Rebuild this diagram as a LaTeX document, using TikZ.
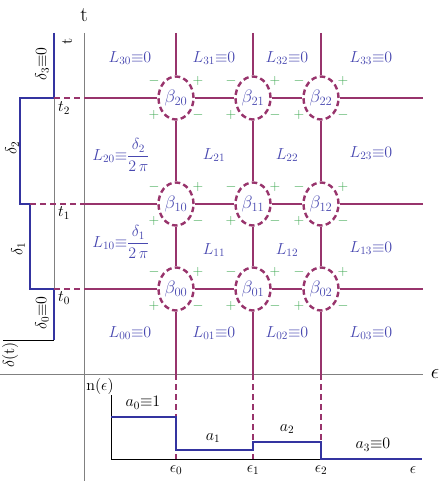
\RequirePackage{fix-cm}
\documentclass[tikz,border=0pt]{standalone}
\usetikzlibrary{shapes.geometric,calc}
\definecolor{magl}{RGB}{152,52,108}
\definecolor{stepblue}{RGB}{52,52,160}
\definecolor{labblue}{RGB}{72,72,176}
\definecolor{sgngreen}{RGB}{60,168,80}
\tikzset{
  magline/.style={magl, line width=2.4pt},
  magdash/.style={magline, dash pattern=on 6pt off 4pt},
  betnode/.style={ellipse, draw=magl, line width=2.4pt, dash pattern=on 5.5pt off 3.3pt,
    minimum width=35pt, minimum height=43pt, inner sep=0pt, text=labblue,
    font=\fontsize{18}{20}\selectfont},
  sgn/.style={text=sgngreen, inner sep=0pt, font=\fontsize{14}{14}\selectfont},
  lab/.style={text=labblue, inner sep=0pt},
  steps/.style={stepblue, line width=2.2pt},
  axis/.style={gray, line width=0.8pt},
  axlab/.style={font=\fontsize{21}{24}\selectfont},
  frame/.style={black, line width=0.6pt},
}
\begin{document}
\begin{tikzpicture}[x=1pt, y=-1pt, font=\fontsize{16}{19}\selectfont, >=stealth]
    \useasboundingbox (0,0) rectangle (441,481);

    % axes
    \coordinate (ttop) at (84,33);
    \coordinate (tbot) at (84,481);
    \draw[axis] (ttop) -- (tbot);
    \node[axlab] (tlab) at (84,15) {$\mathrm{t}$};
    \coordinate (eleft) at (0,374);
    \coordinate (eright) at (423,374);
    \draw[axis] (eleft) -- (eright);
    \node[axlab] (elab) at (435,374) {$\epsilon$};

    % delta(t), turned on its side
    \coordinate (dtop) at (54,33);
    \coordinate (dbot) at (54,340);
    \coordinate (dleft) at (3,340);
    \draw[axis] (dtop) -- (dbot);
    \draw[frame] (dleft) -- (dbot);
    \draw[steps] (dtop) -- (54,98) -- (20,98) -- (20,204) -- (30,204) -- (30,289) -- (54,289) -- (dbot);
    \node[rotate=90] (dtlab) at (10,355) {$\delta(\mathrm{t})$};
    \node[rotate=90] (trot) at (67,41) {$\mathrm{t}$};
    \node[rotate=90] (d3) at (42,64) {$\delta_3{\equiv}0$};
    \node[rotate=90] (d2) at (12,148) {$\delta_2$};
    \node[rotate=90] (d1) at (18,249) {$\delta_1$};
    \node[rotate=90] (d0) at (42,313) {$\delta_0{\equiv}0$};
    \node (t2) at (64,108) {$t_2$};
    \node (t1) at (64,213) {$t_1$};
    \node (t0) at (64,298) {$t_0$};

    % beta vertices with their signs
    \foreach \i/\y in {0/289,1/204,2/98}
      \foreach \j/\x in {0/176,1/253,2/321}{
        \node[betnode] (b\i\j) at (\x,\y) {$\beta_{\i\j}$};
        \node[sgn] (ul\i\j) at ($(b\i\j)+(-22,-17)$) {$-$};
        \node[sgn] (ur\i\j) at ($(b\i\j)+(22,-17)$) {$+$};
        \node[sgn] (ll\i\j) at ($(b\i\j)+(-22,17)$) {$+$};
        \node[sgn] (lr\i\j) at ($(b\i\j)+(22,17)$) {$-$};
      }

    % energy lines
    \foreach \j/\x in {0/176,1/253,2/321}{
      \coordinate (top\j) at (\x,33);
      \coordinate (bot\j) at (\x,374);
      \coordinate (end\j) at (\x,461);
      \draw[magline] (top\j) -- (b2\j) (b2\j) -- (b1\j) (b1\j) -- (b0\j) (b0\j) -- (bot\j);
      \draw[magdash] (bot\j) -- (end\j);
    }
    % time lines
    \foreach \i/\y/\s in {0/289/54,1/204/30,2/98/54}{
      \coordinate (ts\i) at (\s,\y);
      \coordinate (ta\i) at (84,\y);
      \coordinate (tr\i) at (423,\y);
      \draw[magdash] (ts\i) -- (ta\i);
      \draw[magline] (ta\i) -- (b\i0) (b\i0) -- (b\i1) (b\i1) -- (b\i2) (b\i2) -- (tr\i);
    }

    % cell values
    \node[lab] (L30) at (130,58) {$L_{30}{\equiv}0$};
    \node[lab] (L31) at (214,58) {$L_{31}{\equiv}0$};
    \node[lab] (L32) at (287,58) {$L_{32}{\equiv}0$};
    \node[lab] (L33) at (371,58) {$L_{33}{\equiv}0$};
    \node[lab] (L20) at (121,155) {$L_{20}{\equiv}\displaystyle\frac{\delta_2}{2\,\pi}$};
    \node[lab] (L21) at (214,155) {$L_{21}$};
    \node[lab] (L22) at (287,155) {$L_{22}$};
    \node[lab] (L23) at (371,153) {$L_{23}{\equiv}0$};
    \node[lab] (L10) at (121,242) {$L_{10}{\equiv}\displaystyle\frac{\delta_1}{2\,\pi}$};
    \node[lab] (L11) at (214,250) {$L_{11}$};
    \node[lab] (L12) at (287,250) {$L_{12}$};
    \node[lab] (L13) at (371,248) {$L_{13}{\equiv}0$};
    \node[lab] (L00) at (130,333) {$L_{00}{\equiv}0$};
    \node[lab] (L01) at (214,333) {$L_{01}{\equiv}0$};
    \node[lab] (L02) at (287,333) {$L_{02}{\equiv}0$};
    \node[lab] (L03) at (371,333) {$L_{03}{\equiv}0$};

    % n(epsilon)
    \coordinate (norig) at (111,459);
    \coordinate (ntop) at (111,395);
    \coordinate (nright) at (422,459);
    \draw[frame] (ntop) -- (norig) -- (nright);
    \draw[steps] (111,417) -- (176,417) -- (176,450) -- (253,450) -- (253,442) -- (321,442) -- (321,459) -- (nright);
    \node (nlab) at (100,386) {$\mathrm{n}(\epsilon)$};
    \node (a0) at (143,403) {$a_0{\equiv}1$};
    \node (a1) at (213,438) {$a_1$};
    \node (a2) at (287,429) {$a_2$};
    \node (a3) at (373,445) {$a_3{\equiv}0$};
    \node (e0) at (176,470) {$\epsilon_0$};
    \node (e1) at (253,470) {$\epsilon_1$};
    \node (e2) at (321,470) {$\epsilon_2$};
    \node (eps) at (413,470) {$\epsilon$};
\end{tikzpicture}
\end{document}
